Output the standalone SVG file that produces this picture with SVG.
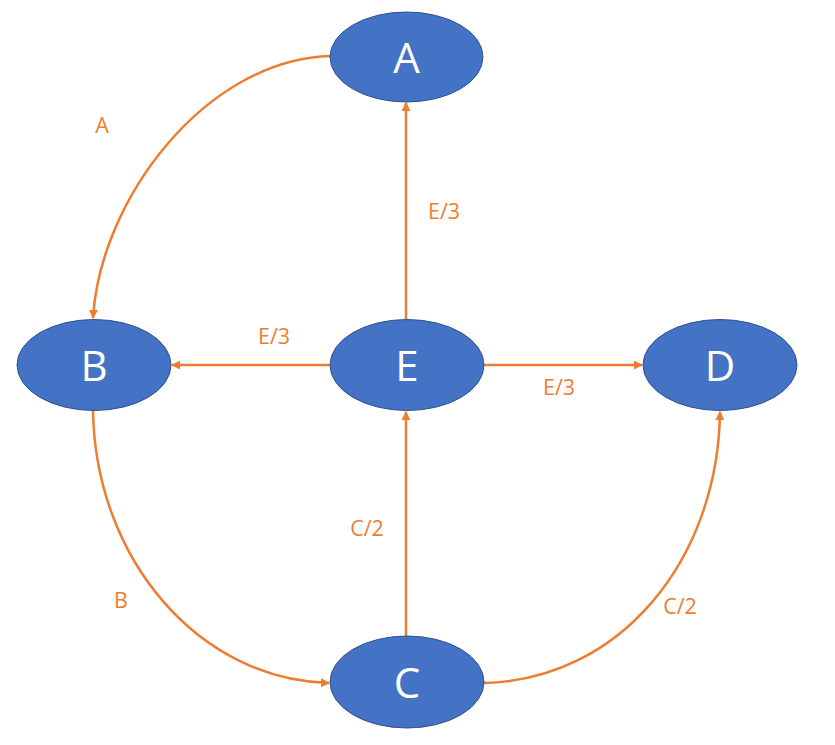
<svg xmlns="http://www.w3.org/2000/svg" width="835" height="745" viewBox="0 0 835 745">
<defs>
<style>
.node{fill:#4472C4;stroke:#2F528F;stroke-width:1}
.nl{font-family:"Open Sans","Noto Sans","Liberation Sans",sans-serif;font-size:42px;fill:#FFFFFF;text-anchor:middle}
.edge{fill:none;stroke:#ED7D31;stroke-width:2.5;marker-end:url(#ah)}
.el{font-family:"Open Sans","Noto Sans","Liberation Sans",sans-serif;font-size:21.5px;fill:#ED7D31;text-anchor:middle}
</style>
<marker id="ah" viewBox="0 0 10 10" refX="9" refY="5" markerWidth="3.6" markerHeight="3.6" orient="auto" markerUnits="strokeWidth">
<path d="M0,0 L10,5 L0,10 z" fill="#ED7D31"/>
</marker>
</defs>
<rect width="835" height="745" fill="#FFFFFF"/>
<g id="connectors">
<path class="edge" d="M406,319 L406,103"/>
<path class="edge" d="M330,365 L172,365"/>
<path class="edge" d="M484,365 L642,365"/>
<path class="edge" d="M406,636 L406,412"/>
<path class="edge" d="M330,56 C205,60 100,200 93,318"/>
<path class="edge" d="M93,410 C95,560 200,680 329,683"/>
<path class="edge" d="M484,683 C620,680 718,560 720,412"/>
<text class="el" x="102" y="133">A</text>
<text class="el" x="444" y="219">E/3</text>
<text class="el" x="274" y="344">E/3</text>
<text class="el" x="559" y="395">E/3</text>
<text class="el" x="367" y="536">C/2</text>
<text class="el" x="121" y="608">B</text>
<text class="el" x="680" y="614">C/2</text>
</g>
<g id="node-A"><ellipse class="node" cx="406.5" cy="57" rx="76.5" ry="45"/><text class="nl" x="406.5" y="73">A</text></g>
<g id="node-B"><ellipse class="node" cx="94" cy="365" rx="77" ry="45.5"/><text class="nl" x="94" y="381">B</text></g>
<g id="node-E"><ellipse class="node" cx="407" cy="365" rx="77" ry="45.5"/><text class="nl" x="407" y="381">E</text></g>
<g id="node-D"><ellipse class="node" cx="720" cy="365" rx="77" ry="45.5"/><text class="nl" x="720" y="381">D</text></g>
<g id="node-C"><ellipse class="node" cx="407" cy="682" rx="77" ry="46"/><text class="nl" x="407" y="698">C</text></g>
</svg>
